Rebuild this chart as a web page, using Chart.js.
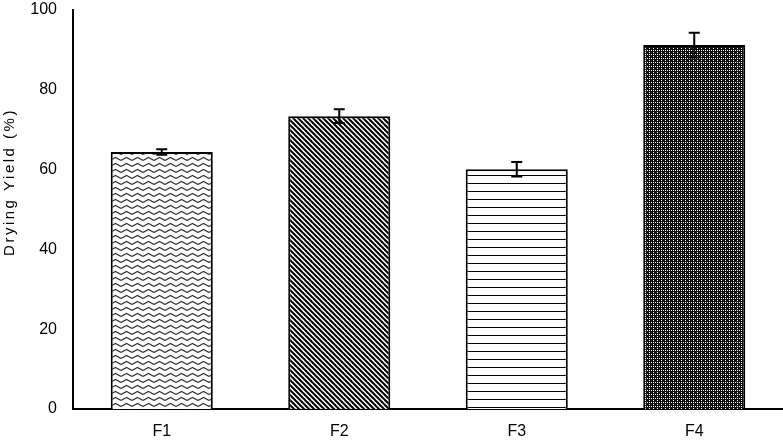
<!DOCTYPE html>
<html><head><meta charset="utf-8">
<script src="https://cdn.jsdelivr.net/npm/chart.js@4"></script>
<style>html,body{margin:0;padding:0;background:#fff}#wrap{width:783px;height:442px}</style>
</head><body><div id="wrap"><canvas id="c"></canvas></div>
<script>
const categories = ["F1", "F2", "F3", "F4"];
const yieldValues = [64.4, 73.4, 60.1, 91.2];
const yieldErrors = [0.7, 1.7, 1.8, 3.1];
const yTicks = [0, 20, 40, 60, 80, 100];
const yTitle = "Drying Yield (%)";

function makePattern(kind) {
  const c = document.createElement('canvas');
  const g = c.getContext('2d');
  if (kind === 'zigzag') {
    c.width = 11; c.height = 6;
    g.fillStyle = '#fff'; g.fillRect(0,0,11,6);
    g.strokeStyle = '#333'; g.lineWidth = 1.1;
    g.beginPath(); g.moveTo(0,4.5); g.lineTo(5.5,1.5); g.lineTo(11,4.5); g.stroke();
  } else if (kind === 'diag') {
    c.width = 5; c.height = 5;
    g.fillStyle = '#fff'; g.fillRect(0,0,5,5);
    g.strokeStyle = '#000'; g.lineWidth = 2;
    g.beginPath();
    g.moveTo(-2.5,-2.5); g.lineTo(7.5,7.5);
    g.moveTo(-2.5,2.5); g.lineTo(2.5,7.5);
    g.moveTo(2.5,-2.5); g.lineTo(7.5,2.5);
    g.stroke();
  } else if (kind === 'hlines') {
    c.width = 8; c.height = 8;
    g.fillStyle = '#fff'; g.fillRect(0,0,8,8);
    g.fillStyle = '#000'; g.fillRect(0,7,8,1.4);
  } else {
    c.width = 4; c.height = 4;
    g.fillStyle = '#111'; g.fillRect(0,0,4,4);
    g.fillStyle = '#fff';
    g.fillRect(1,0,1,1); g.fillRect(3,2,1,1); g.fillRect(1,2,1,1);
  }
  return document.getElementById('c').getContext('2d').createPattern(c, 'repeat');
}
const fills = [makePattern('zigzag'), makePattern('diag'), makePattern('hlines'), makePattern('dots')];

const errorBars = {
  id: 'errorBars',
  afterDatasetsDraw(chart) {
    const ctx = chart.ctx, meta = chart.getDatasetMeta(0), ys = chart.scales.y;
    ctx.save();
    ctx.strokeStyle = '#000'; ctx.lineWidth = 2;
    meta.data.forEach((bar, i) => {
      const x = bar.x, v = yieldValues[i], e = yieldErrors[i];
      const yt = ys.getPixelForValue(v + e), yb = ys.getPixelForValue(v - e);
      ctx.beginPath();
      ctx.moveTo(x, yt); ctx.lineTo(x, yb);
      ctx.moveTo(x - 5.5, yt); ctx.lineTo(x + 5.5, yt);
      ctx.moveTo(x - 5.5, yb); ctx.lineTo(x + 5.5, yb);
      ctx.stroke();
    });
    ctx.restore();
  }
};

const axisTitle = {
  id: 'axisTitle',
  afterDraw(chart) {
    const ctx = chart.ctx;
    ctx.save();
    ctx.translate(10, 182);
    ctx.rotate(-Math.PI / 2);
    ctx.font = '15px "Liberation Sans"';
    if ('letterSpacing' in ctx) ctx.letterSpacing = '2.5px';
    ctx.fillStyle = '#000';
    ctx.textAlign = 'center';
    ctx.textBaseline = 'middle';
    ctx.fillText(yTitle, 0, 0);
    ctx.restore();
  }
};

new Chart(document.getElementById('c'), {
  type: 'bar',
  data: {
    labels: categories,
    datasets: [{
      data: yieldValues,
      backgroundColor: fills,
      borderColor: '#000',
      borderWidth: 2,
      categoryPercentage: 1,
      barPercentage: 0.575
    }]
  },
  options: {
    responsive: true, maintainAspectRatio: false, animation: false,
    devicePixelRatio: 1,
    layout: { padding: { top: 10, right: 0, left: 0, bottom: 0 } },
    plugins: { legend: { display: false }, tooltip: { enabled: false } },
    scales: {
      x: {
        grid: { display: false, drawTicks: false },
        border: { color: '#000', width: 2 },
        ticks: { color: '#000', font: { family: 'Liberation Sans', size: 16 }, padding: 13 },
        afterFit(s) { s.height = 33; s.paddingLeft = 0; s.paddingRight = 0; }
      },
      y: {
        min: 0, max: 100,
        afterBuildTicks(s) { s.ticks = yTicks.map(v => ({ value: v })); },
        grid: { display: false, drawOnChartArea: false, drawTicks: true, tickLength: 8, tickColor: '#000', tickWidth: 2 },
        border: { color: '#000', width: 2 },
        ticks: { color: '#000', font: { family: 'Liberation Sans', size: 16 }, padding: 8 },
        title: { display: false },
        afterFit(s) { s.width = 73; s.paddingTop = 0; s.paddingBottom = 0; }
      }
    }
  },
  plugins: [errorBars, axisTitle]
});
</script></body></html>
